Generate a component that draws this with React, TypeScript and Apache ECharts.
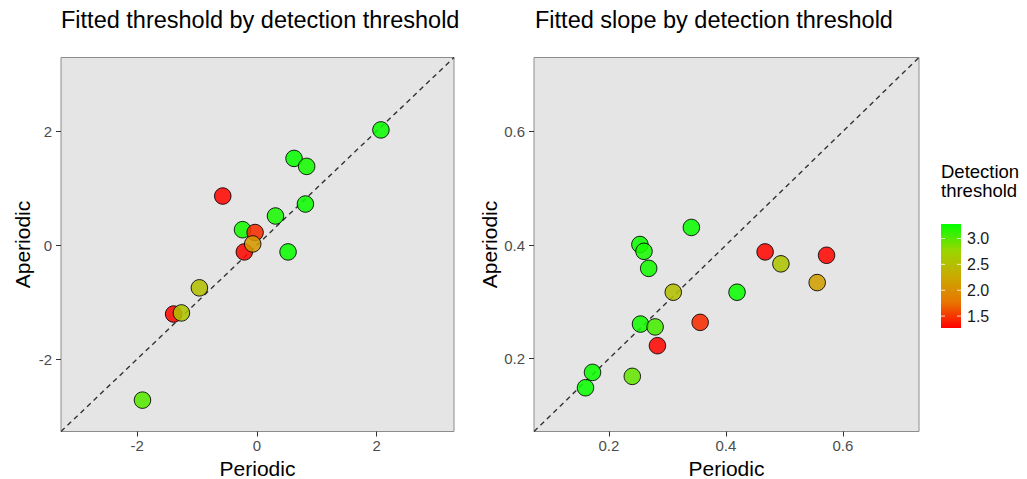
import React, { useEffect, useRef } from "react";
import * as echarts from "echarts";

// ---- Data ----
const thrPeriodic = [2.07, 0.62, 0.83, -0.57, 0.81, 0.31, -0.24, -0.03, -0.21, -0.07, 0.52, -0.96, -1.39, -1.26, -1.91];
const thrAperiodic = [2.02, 1.52, 1.38, 0.86, 0.72, 0.51, 0.27, 0.22, -0.12, 0.02, -0.12, -0.75, -1.21, -1.19, -2.72];
const thrDetection = [3.25, 3.26, 3.22, 1.3, 3.24, 3.2, 3.22, 1.45, 1.3, 2.1, 3.25, 2.5, 1.3, 2.55, 3.0];

const slpPeriodic = [0.341, 0.253, 0.26, 0.268, 0.31, 0.419, 0.467, 0.494, 0.572, 0.556, 0.356, 0.254, 0.279, 0.283, 0.172, 0.24, 0.16];
const slpAperiodic = [0.431, 0.401, 0.389, 0.359, 0.317, 0.317, 0.388, 0.367, 0.382, 0.334, 0.264, 0.261, 0.256, 0.223, 0.176, 0.169, 0.149];
const slpDetection = [3.25, 3.24, 3.2, 3.22, 2.5, 3.25, 1.3, 2.55, 1.3, 2.15, 1.45, 3.22, 3.05, 1.3, 3.24, 2.95, 3.25];

const thrRange = [-3.27, 3.29];
const slpRange = [0.072, 0.73];
const thrTicks = [-2, 0, 2];
const slpTicks = [0.2, 0.4, 0.6];

const detRange = [1.27, 3.28];
const detTicks = [1.5, 2.0, 2.5, 3.0];
const gradColors = ["#FF0000", "#E87600", "#C9AB00", "#98D700", "#00FF00"];

const FONT = '"Liberation Sans", Arial, Helvetica, sans-serif';

function axis(gridIndex: number, range: number[], ticks: number[], name: string, isX: boolean) {
  return {
    type: "value",
    gridIndex,
    min: range[0],
    max: range[1],
    name,
    nameLocation: "middle",
    nameGap: isX ? 20.5 : gridIndex === 0 ? 28 : 31,
    nameTextStyle: { color: "#000", fontSize: 21, lineHeight: 21, fontFamily: FONT },
    axisLine: { show: false, onZero: false },
    axisTick: {
      show: true,
      length: 5,
      customValues: ticks,
      lineStyle: { color: "#333333", width: 1 },
    },
    axisLabel: {
      customValues: ticks,
      color: "#4D4D4D",
      fontSize: 15,
      fontFamily: FONT,
      margin: isX ? 6.5 : 9,
      formatter: (v: number) => String(v),
    },
    splitLine: { show: false },
  };
}

export default function App() {
  const ref = useRef<HTMLDivElement>(null);
  useEffect(() => {
    if (!ref.current) return;
    const chart = echarts.init(ref.current, null, { renderer: "svg" });

    const barX = 941, barY = 224, barW = 20, barH = 104;
    const valToY = (v: number) => barY + barH - ((v - detRange[0]) / (detRange[1] - detRange[0])) * barH;
    const stops = gradColors
      .map((c, i) => ({ offset: 1 - i / (gradColors.length - 1), color: c }))
      .reverse();

    const legendGraphics: any[] = [
      {
        type: "rect",
        shape: { x: barX, y: barY, width: barW, height: barH },
        style: {
          fill: { type: "linear", x: 0, y: 0, x2: 0, y2: 1, colorStops: stops },
        },
      },
    ];
    detTicks.forEach((t) => {
      const y = valToY(t);
      legendGraphics.push({
        type: "line",
        shape: { x1: barX, y1: y, x2: barX + 4, y2: y },
        style: { stroke: "#FFFFFF", lineWidth: 1, opacity: 0.8 },
      });
      legendGraphics.push({
        type: "line",
        shape: { x1: barX + barW - 4, y1: y, x2: barX + barW, y2: y },
        style: { stroke: "#FFFFFF", lineWidth: 1, opacity: 0.8 },
      });
      legendGraphics.push({
        type: "text",
        x: 967,
        y,
        style: {
          text: t.toFixed(1),
          fontSize: 16,
          fontFamily: FONT,
          fill: "#1A1A1A",
          verticalAlign: "middle",
          align: "left",
        },
      });
    });

    chart.setOption({
      animation: false,
      backgroundColor: "#FFFFFF",
      grid: [
        { left: 61, top: 57.5, width: 393, height: 374, show: true, backgroundColor: "#E5E5E5", borderColor: "#8C8C8C", borderWidth: 1, containLabel: false, outerBoundsMode: "none" },
        { left: 534, top: 57.5, width: 385, height: 374, show: true, backgroundColor: "#E5E5E5", borderColor: "#8C8C8C", borderWidth: 1, containLabel: false, outerBoundsMode: "none" },
      ],
      xAxis: [
        axis(0, thrRange, thrTicks, "Periodic", true),
        axis(1, slpRange, slpTicks, "Periodic", true),
      ],
      yAxis: [
        axis(0, thrRange, thrTicks, "Aperiodic", false),
        axis(1, slpRange, slpTicks, "Aperiodic", false),
      ],
      visualMap: {
        type: "continuous",
        show: false,
        min: detRange[0],
        max: detRange[1],
        dimension: 2,
        seriesIndex: [2, 3],
        inRange: { color: gradColors },
      },
      series: [
        {
          type: "line",
          xAxisIndex: 0,
          yAxisIndex: 0,
          data: [[thrRange[0], thrRange[0]], [thrRange[1], thrRange[1]]],
          symbol: "none",
          silent: true,
          lineStyle: { color: "#333333", width: 1.4, type: [5, 4] },
          z: 1,
        },
        {
          type: "line",
          xAxisIndex: 1,
          yAxisIndex: 1,
          data: [[slpRange[0], slpRange[0]], [slpRange[1], slpRange[1]]],
          symbol: "none",
          silent: true,
          lineStyle: { color: "#333333", width: 1.4, type: [5, 4] },
          z: 1,
        },
        {
          type: "scatter",
          xAxisIndex: 0,
          yAxisIndex: 0,
          symbolSize: 16.5,
          data: thrPeriodic.map((x, i) => [x, thrAperiodic[i], thrDetection[i]]),
          itemStyle: { borderColor: "#000000", borderWidth: 1, opacity: 0.87 },
          z: 2,
        },
        {
          type: "scatter",
          xAxisIndex: 1,
          yAxisIndex: 1,
          symbolSize: 16.5,
          data: slpPeriodic.map((x, i) => [x, slpAperiodic[i], slpDetection[i]]),
          itemStyle: { borderColor: "#000000", borderWidth: 1, opacity: 0.87 },
          z: 2,
        },
      ],
      graphic: [
        {
          type: "text",
          x: 61,
          y: 20,
          style: { text: "Fitted threshold by detection threshold", fontSize: 23.5, fontFamily: FONT, fill: "#000", verticalAlign: "middle" },
        },
        {
          type: "text",
          x: 535,
          y: 20,
          style: { text: "Fitted slope by detection threshold", fontSize: 23.5, fontFamily: FONT, fill: "#000", verticalAlign: "middle" },
        },
        {
          type: "text",
          x: 941,
          y: 161.25,
          style: { text: "Detection\nthreshold", fontSize: 18.5, lineHeight: 19.5, fontFamily: FONT, fill: "#000", verticalAlign: "top" },
        },
        ...legendGraphics,
      ],
    });
    return () => chart.dispose();
  }, []);
  return <div ref={ref} style={{ position: "fixed", left: 0, top: 0, width: 1027, height: 479 }} />;
}
